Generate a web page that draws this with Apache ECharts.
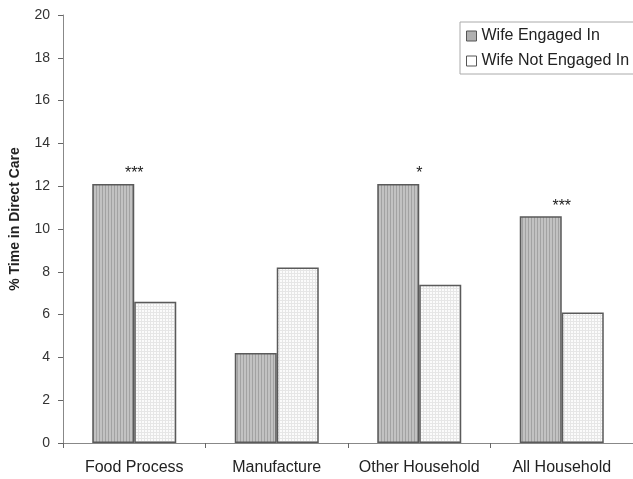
<!DOCTYPE html>
<html>
<head>
<meta charset="utf-8">
<script src="https://cdn.jsdelivr.net/npm/echarts@6/dist/echarts.min.js"></script>
<style>
  html, body { margin: 0; padding: 0; background: #fff; }
  #chart { width: 633px; height: 479px; }
</style>
</head>
<body>
<div id="chart"></div>
<script>
// Share of time spent in direct child care, by wife's activity
const categories = ['Food Process', 'Manufacture', 'Other Household', 'All Household'];
const engaged = [12.1, 4.2, 12.1, 10.6];
const notEngaged = [6.6, 8.2, 7.4, 6.1];
const significance = ['***', '', '*', '***'];
const seriesNames = ['Wife Engaged In', 'Wife Not Engaged In'];
const yTicks = { min: 0, max: 20, interval: 2 };

// Fill textures: vertical hatching for the first series, a fine grid for the second
function makePattern(w, h, bg, line, grid) {
  const c = document.createElement('canvas');
  c.width = w; c.height = h;
  const ctx = c.getContext('2d');
  ctx.fillStyle = bg;
  ctx.fillRect(0, 0, w, h);
  ctx.fillStyle = line;
  ctx.fillRect(0, 0, 1, h);
  if (grid) ctx.fillRect(0, 0, w, 1);
  return { image: c, repeat: 'repeat' };
}
const hatch = makePattern(3, 3, '#c2c2c2', '#a2a2a2', false);
const mesh = makePattern(3, 3, '#fbfbfb', '#e6e6e6', true);

const font = 'Arial, "Liberation Sans", Helvetica, sans-serif';
const chart = echarts.init(document.getElementById('chart'));
chart.setOption({
  animation: false,
  backgroundColor: '#fff',
  textStyle: { fontFamily: font },
  grid: { left: 63, right: 0, top: 15, bottom: 36, containLabel: false },
  legend: {
    orient: 'vertical',
    left: 460,
    top: 22,
    padding: [6, 10, 5, 6],
    itemGap: 9,
    itemWidth: 10,
    itemHeight: 10,
    backgroundColor: '#fff',
    borderColor: '#aaa',
    borderWidth: 1,
    borderRadius: 0,
    selectedMode: false,
    textStyle: { fontFamily: font, fontSize: 16, color: '#222' },
    data: [
      { name: seriesNames[0], icon: 'rect', itemStyle: { color: '#b0b0b0', borderColor: '#555', borderWidth: 1 } },
      { name: seriesNames[1], icon: 'rect', itemStyle: { color: '#fff', borderColor: '#555', borderWidth: 1 } }
    ]
  },
  xAxis: {
    type: 'category',
    data: categories,
    boundaryGap: true,
    axisLine: { lineStyle: { color: '#888', width: 1 } },
    axisTick: { show: true, length: 5, lineStyle: { color: '#666' } },
    axisLabel: { interval: 0, fontSize: 16, color: '#222', margin: 17, fontFamily: font }
  },
  yAxis: {
    type: 'value',
    min: yTicks.min,
    max: yTicks.max,
    interval: yTicks.interval,
    name: '% Time in Direct Care',
    nameLocation: 'middle',
    nameGap: 41,
    nameRotate: 90,
    nameTextStyle: { fontSize: 14, fontWeight: 'bold', color: '#222', fontFamily: font, padding: [0, 0, 0, 20] },
    axisLine: { show: true, lineStyle: { color: '#888', width: 1 } },
    axisTick: { show: true, length: 5, lineStyle: { color: '#666' } },
    axisLabel: { fontSize: 14, color: '#333', margin: 13, fontFamily: font },
    splitLine: { show: false }
  },
  series: [
    {
      name: seriesNames[0],
      type: 'bar',
      data: engaged,
      barWidth: 42,
      barGap: '0%',
      itemStyle: { color: hatch, borderColor: '#5a5a5a', borderWidth: 1.5 },
      label: {
        show: true,
        position: 'top',
        distance: 2,
        offset: [21, 0],
        fontSize: 16,
        color: '#222',
        fontFamily: font,
        formatter: p => significance[p.dataIndex]
      }
    },
    {
      name: seriesNames[1],
      type: 'bar',
      data: notEngaged,
      barWidth: 42,
      barGap: '0%',
      itemStyle: { color: mesh, borderColor: '#5a5a5a', borderWidth: 1.5 }
    }
  ]
});
</script>
</body>
</html>
